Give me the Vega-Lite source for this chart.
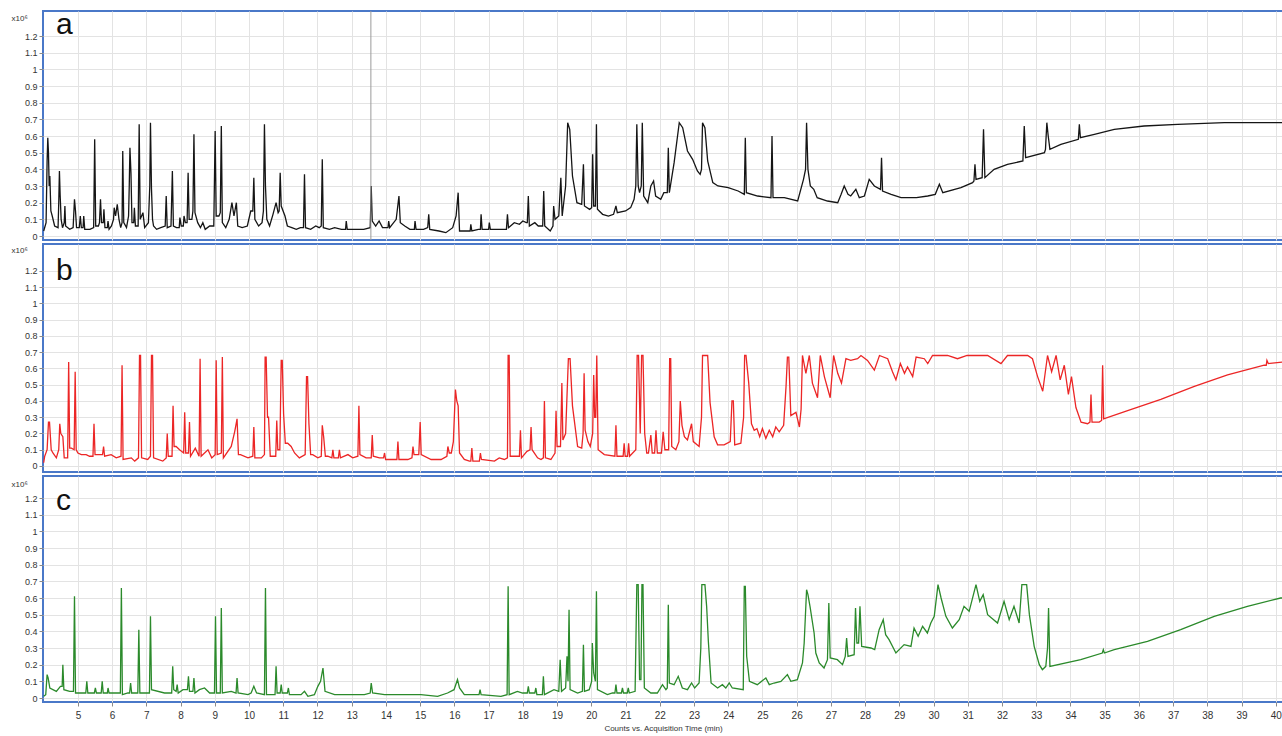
{
"$schema": "https://vega.github.io/schema/vega-lite/v6.json",
"padding": {"left": 10, "top": 9, "right": 0, "bottom": 0},
"config": {
  "font": "Liberation Sans",
  "view": {"stroke": "#4a78c8", "strokeWidth": 2},
  "axis": {"gridColor": "#e3e3e3", "gridWidth": 1, "labelColor": "#333333", "tickColor": "#8a8a8a", "titleColor": "#333333", "titleFontWeight": "normal", "labelOverlap": false, "labelFlush": false}
},
"bounds": "flush",
"spacing": 4,
"datasets": {
"a": [
{"t":4.00,"v":0.03},{"t":4.07,"v":0.08},{"t":4.10,"v":0.45},{"t":4.12,"v":0.59},{"t":4.14,"v":0.50},{"t":4.16,"v":0.30},{"t":4.18,"v":0.36},{"t":4.21,"v":0.15},{"t":4.25,"v":0.12},{"t":4.32,"v":0.06},{"t":4.42,"v":0.05},{"t":4.44,"v":0.20},{"t":4.46,"v":0.39},{"t":4.48,"v":0.25},{"t":4.51,"v":0.10},{"t":4.55,"v":0.05},{"t":4.60,"v":0.08},{"t":4.62,"v":0.18},{"t":4.64,"v":0.06},{"t":4.76,"v":0.04},{"t":4.86,"v":0.05},{"t":4.90,"v":0.22},{"t":4.93,"v":0.15},{"t":4.96,"v":0.05},{"t":5.04,"v":0.05},{"t":5.07,"v":0.12},{"t":5.10,"v":0.05},{"t":5.15,"v":0.05},{"t":5.17,"v":0.12},{"t":5.20,"v":0.04},{"t":5.35,"v":0.04},{"t":5.46,"v":0.05},{"t":5.49,"v":0.58},{"t":5.52,"v":0.06},{"t":5.60,"v":0.06},{"t":5.63,"v":0.08},{"t":5.66,"v":0.22},{"t":5.69,"v":0.08},{"t":5.74,"v":0.08},{"t":5.76,"v":0.16},{"t":5.79,"v":0.05},{"t":5.86,"v":0.05},{"t":5.88,"v":0.09},{"t":5.91,"v":0.04},{"t":5.98,"v":0.06},{"t":6.04,"v":0.10},{"t":6.06,"v":0.17},{"t":6.10,"v":0.12},{"t":6.15,"v":0.19},{"t":6.20,"v":0.10},{"t":6.25,"v":0.05},{"t":6.29,"v":0.08},{"t":6.31,"v":0.51},{"t":6.34,"v":0.08},{"t":6.42,"v":0.05},{"t":6.48,"v":0.12},{"t":6.50,"v":0.30},{"t":6.52,"v":0.53},{"t":6.55,"v":0.38},{"t":6.58,"v":0.08},{"t":6.63,"v":0.08},{"t":6.65,"v":0.17},{"t":6.68,"v":0.06},{"t":6.76,"v":0.06},{"t":6.79,"v":0.67},{"t":6.82,"v":0.10},{"t":6.90,"v":0.14},{"t":6.95,"v":0.05},{"t":7.06,"v":0.08},{"t":7.10,"v":0.30},{"t":7.12,"v":0.68},{"t":7.15,"v":0.28},{"t":7.18,"v":0.10},{"t":7.21,"v":0.06},{"t":7.30,"v":0.04},{"t":7.42,"v":0.05},{"t":7.55,"v":0.06},{"t":7.58,"v":0.24},{"t":7.61,"v":0.05},{"t":7.72,"v":0.06},{"t":7.76,"v":0.39},{"t":7.79,"v":0.06},{"t":7.88,"v":0.05},{"t":7.96,"v":0.05},{"t":7.98,"v":0.11},{"t":8.02,"v":0.06},{"t":8.08,"v":0.06},{"t":8.10,"v":0.12},{"t":8.14,"v":0.08},{"t":8.19,"v":0.08},{"t":8.22,"v":0.38},{"t":8.25,"v":0.10},{"t":8.33,"v":0.10},{"t":8.36,"v":0.15},{"t":8.39,"v":0.61},{"t":8.42,"v":0.14},{"t":8.50,"v":0.08},{"t":8.58,"v":0.05},{"t":8.65,"v":0.08},{"t":8.72,"v":0.04},{"t":8.85,"v":0.06},{"t":8.97,"v":0.06},{"t":9.01,"v":0.63},{"t":9.04,"v":0.12},{"t":9.12,"v":0.12},{"t":9.16,"v":0.14},{"t":9.19,"v":0.66},{"t":9.22,"v":0.08},{"t":9.32,"v":0.05},{"t":9.42,"v":0.10},{"t":9.50,"v":0.20},{"t":9.56,"v":0.12},{"t":9.63,"v":0.20},{"t":9.67,"v":0.06},{"t":9.80,"v":0.05},{"t":9.95,"v":0.06},{"t":10.05,"v":0.15},{"t":10.11,"v":0.15},{"t":10.14,"v":0.35},{"t":10.17,"v":0.10},{"t":10.28,"v":0.06},{"t":10.38,"v":0.08},{"t":10.42,"v":0.15},{"t":10.45,"v":0.67},{"t":10.48,"v":0.30},{"t":10.52,"v":0.10},{"t":10.60,"v":0.06},{"t":10.70,"v":0.13},{"t":10.79,"v":0.20},{"t":10.85,"v":0.14},{"t":10.88,"v":0.15},{"t":10.91,"v":0.38},{"t":10.94,"v":0.18},{"t":11.05,"v":0.12},{"t":11.12,"v":0.06},{"t":11.25,"v":0.05},{"t":11.38,"v":0.04},{"t":11.50,"v":0.05},{"t":11.59,"v":0.05},{"t":11.62,"v":0.37},{"t":11.65,"v":0.05},{"t":11.80,"v":0.04},{"t":11.95,"v":0.06},{"t":12.05,"v":0.05},{"t":12.11,"v":0.06},{"t":12.14,"v":0.46},{"t":12.17,"v":0.05},{"t":12.35,"v":0.04},{"t":12.50,"v":0.05},{"t":12.70,"v":0.04},{"t":12.82,"v":0.04},{"t":12.84,"v":0.09},{"t":12.87,"v":0.04},{"t":13.10,"v":0.04},{"t":13.35,"v":0.04},{"t":13.54,"v":0.05},{"t":13.57,"v":0.30},{"t":13.60,"v":0.09},{"t":13.70,"v":0.06},{"t":13.80,"v":0.09},{"t":13.90,"v":0.05},{"t":14.06,"v":0.05},{"t":14.08,"v":0.09},{"t":14.11,"v":0.05},{"t":14.30,"v":0.10},{"t":14.38,"v":0.24},{"t":14.42,"v":0.08},{"t":14.55,"v":0.06},{"t":14.70,"v":0.04},{"t":14.83,"v":0.04},{"t":14.85,"v":0.09},{"t":14.88,"v":0.04},{"t":15.10,"v":0.04},{"t":15.22,"v":0.05},{"t":15.25,"v":0.13},{"t":15.28,"v":0.04},{"t":15.55,"v":0.03},{"t":15.75,"v":0.02},{"t":15.95,"v":0.05},{"t":16.05,"v":0.12},{"t":16.11,"v":0.26},{"t":16.15,"v":0.03},{"t":16.35,"v":0.03},{"t":16.46,"v":0.03},{"t":16.48,"v":0.07},{"t":16.51,"v":0.03},{"t":16.70,"v":0.04},{"t":16.76,"v":0.04},{"t":16.78,"v":0.13},{"t":16.81,"v":0.04},{"t":17.00,"v":0.04},{"t":17.02,"v":0.08},{"t":17.05,"v":0.04},{"t":17.30,"v":0.04},{"t":17.52,"v":0.04},{"t":17.55,"v":0.13},{"t":17.58,"v":0.05},{"t":17.75,"v":0.08},{"t":17.90,"v":0.07},{"t":18.00,"v":0.09},{"t":18.10,"v":0.08},{"t":18.13,"v":0.08},{"t":18.16,"v":0.24},{"t":18.19,"v":0.06},{"t":18.35,"v":0.08},{"t":18.45,"v":0.06},{"t":18.58,"v":0.06},{"t":18.61,"v":0.27},{"t":18.64,"v":0.06},{"t":18.80,"v":0.03},{"t":18.88,"v":0.06},{"t":18.90,"v":0.18},{"t":18.94,"v":0.10},{"t":19.05,"v":0.12},{"t":19.11,"v":0.35},{"t":19.15,"v":0.12},{"t":19.25,"v":0.30},{"t":19.31,"v":0.68},{"t":19.37,"v":0.64},{"t":19.45,"v":0.36},{"t":19.58,"v":0.20},{"t":19.72,"v":0.19},{"t":19.77,"v":0.43},{"t":19.80,"v":0.18},{"t":19.95,"v":0.16},{"t":20.01,"v":0.17},{"t":20.04,"v":0.49},{"t":20.07,"v":0.18},{"t":20.12,"v":0.18},{"t":20.15,"v":0.67},{"t":20.18,"v":0.16},{"t":20.33,"v":0.13},{"t":20.50,"v":0.12},{"t":20.65,"v":0.13},{"t":20.72,"v":0.18},{"t":20.76,"v":0.14},{"t":21.00,"v":0.15},{"t":21.15,"v":0.17},{"t":21.25,"v":0.22},{"t":21.30,"v":0.30},{"t":21.33,"v":0.67},{"t":21.37,"v":0.30},{"t":21.41,"v":0.26},{"t":21.46,"v":0.30},{"t":21.49,"v":0.68},{"t":21.53,"v":0.24},{"t":21.65,"v":0.20},{"t":21.74,"v":0.30},{"t":21.82,"v":0.33},{"t":21.88,"v":0.24},{"t":22.03,"v":0.22},{"t":22.12,"v":0.26},{"t":22.22,"v":0.26},{"t":22.25,"v":0.53},{"t":22.28,"v":0.26},{"t":22.42,"v":0.44},{"t":22.57,"v":0.68},{"t":22.67,"v":0.65},{"t":22.81,"v":0.51},{"t":22.96,"v":0.46},{"t":23.10,"v":0.39},{"t":23.18,"v":0.37},{"t":23.22,"v":0.40},{"t":23.25,"v":0.68},{"t":23.32,"v":0.65},{"t":23.40,"v":0.45},{"t":23.55,"v":0.32},{"t":23.70,"v":0.30},{"t":24.00,"v":0.29},{"t":24.29,"v":0.27},{"t":24.47,"v":0.25},{"t":24.50,"v":0.59},{"t":24.53,"v":0.26},{"t":24.86,"v":0.24},{"t":25.25,"v":0.23},{"t":25.28,"v":0.60},{"t":25.31,"v":0.23},{"t":25.64,"v":0.23},{"t":26.03,"v":0.21},{"t":26.20,"v":0.34},{"t":26.26,"v":0.40},{"t":26.29,"v":0.68},{"t":26.33,"v":0.40},{"t":26.40,"v":0.30},{"t":26.50,"v":0.28},{"t":26.60,"v":0.23},{"t":26.90,"v":0.21},{"t":27.20,"v":0.20},{"t":27.30,"v":0.25},{"t":27.39,"v":0.30},{"t":27.50,"v":0.25},{"t":27.58,"v":0.24},{"t":27.73,"v":0.28},{"t":27.83,"v":0.23},{"t":27.98,"v":0.24},{"t":28.12,"v":0.34},{"t":28.27,"v":0.30},{"t":28.45,"v":0.28},{"t":28.48,"v":0.47},{"t":28.51,"v":0.27},{"t":28.76,"v":0.25},{"t":29.05,"v":0.23},{"t":29.50,"v":0.23},{"t":29.83,"v":0.24},{"t":30.05,"v":0.25},{"t":30.17,"v":0.31},{"t":30.27,"v":0.26},{"t":30.80,"v":0.29},{"t":31.14,"v":0.32},{"t":31.18,"v":0.33},{"t":31.21,"v":0.43},{"t":31.24,"v":0.34},{"t":31.42,"v":0.35},{"t":31.46,"v":0.64},{"t":31.50,"v":0.35},{"t":31.77,"v":0.40},{"t":32.16,"v":0.43},{"t":32.61,"v":0.45},{"t":32.65,"v":0.66},{"t":32.69,"v":0.47},{"t":33.24,"v":0.50},{"t":33.27,"v":0.52},{"t":33.31,"v":0.68},{"t":33.35,"v":0.60},{"t":33.40,"v":0.52},{"t":33.72,"v":0.55},{"t":34.23,"v":0.58},{"t":34.26,"v":0.67},{"t":34.29,"v":0.59},{"t":34.70,"v":0.61},{"t":35.28,"v":0.64},{"t":36.15,"v":0.66},{"t":37.13,"v":0.67},{"t":38.50,"v":0.68},{"t":40.21,"v":0.68}
],
"b": [
{"t":4.00,"v":0.02},{"t":4.03,"v":0.06},{"t":4.10,"v":0.10},{"t":4.14,"v":0.27},{"t":4.17,"v":0.27},{"t":4.22,"v":0.10},{"t":4.27,"v":0.08},{"t":4.37,"v":0.05},{"t":4.44,"v":0.10},{"t":4.47,"v":0.26},{"t":4.50,"v":0.20},{"t":4.56,"v":0.18},{"t":4.60,"v":0.05},{"t":4.70,"v":0.05},{"t":4.73,"v":0.64},{"t":4.76,"v":0.11},{"t":4.81,"v":0.11},{"t":4.89,"v":0.10},{"t":4.92,"v":0.58},{"t":4.95,"v":0.10},{"t":5.00,"v":0.08},{"t":5.10,"v":0.07},{"t":5.24,"v":0.07},{"t":5.34,"v":0.06},{"t":5.44,"v":0.06},{"t":5.47,"v":0.26},{"t":5.50,"v":0.07},{"t":5.63,"v":0.07},{"t":5.72,"v":0.07},{"t":5.75,"v":0.12},{"t":5.78,"v":0.06},{"t":5.97,"v":0.07},{"t":6.12,"v":0.05},{"t":6.26,"v":0.06},{"t":6.29,"v":0.62},{"t":6.32,"v":0.04},{"t":6.56,"v":0.05},{"t":6.66,"v":0.03},{"t":6.77,"v":0.05},{"t":6.80,"v":0.68},{"t":6.83,"v":0.68},{"t":6.86,"v":0.05},{"t":7.04,"v":0.04},{"t":7.12,"v":0.06},{"t":7.15,"v":0.68},{"t":7.18,"v":0.68},{"t":7.21,"v":0.05},{"t":7.48,"v":0.03},{"t":7.58,"v":0.05},{"t":7.61,"v":0.20},{"t":7.64,"v":0.06},{"t":7.75,"v":0.06},{"t":7.78,"v":0.37},{"t":7.81,"v":0.12},{"t":7.87,"v":0.12},{"t":7.97,"v":0.10},{"t":8.09,"v":0.08},{"t":8.12,"v":0.33},{"t":8.15,"v":0.08},{"t":8.23,"v":0.08},{"t":8.26,"v":0.27},{"t":8.29,"v":0.06},{"t":8.43,"v":0.11},{"t":8.54,"v":0.06},{"t":8.57,"v":0.66},{"t":8.60,"v":0.06},{"t":8.80,"v":0.10},{"t":8.91,"v":0.05},{"t":9.01,"v":0.07},{"t":9.04,"v":0.65},{"t":9.07,"v":0.07},{"t":9.19,"v":0.08},{"t":9.22,"v":0.67},{"t":9.25,"v":0.05},{"t":9.48,"v":0.12},{"t":9.58,"v":0.21},{"t":9.65,"v":0.29},{"t":9.69,"v":0.07},{"t":9.75,"v":0.07},{"t":9.97,"v":0.05},{"t":10.11,"v":0.06},{"t":10.14,"v":0.24},{"t":10.17,"v":0.05},{"t":10.36,"v":0.05},{"t":10.45,"v":0.07},{"t":10.47,"v":0.67},{"t":10.50,"v":0.67},{"t":10.54,"v":0.30},{"t":10.57,"v":0.30},{"t":10.62,"v":0.06},{"t":10.78,"v":0.06},{"t":10.81,"v":0.28},{"t":10.84,"v":0.10},{"t":10.90,"v":0.10},{"t":10.94,"v":0.65},{"t":10.97,"v":0.65},{"t":11.01,"v":0.32},{"t":11.06,"v":0.14},{"t":11.13,"v":0.14},{"t":11.23,"v":0.12},{"t":11.33,"v":0.08},{"t":11.47,"v":0.05},{"t":11.64,"v":0.07},{"t":11.68,"v":0.55},{"t":11.71,"v":0.55},{"t":11.75,"v":0.26},{"t":11.80,"v":0.07},{"t":11.86,"v":0.07},{"t":12.01,"v":0.05},{"t":12.11,"v":0.06},{"t":12.14,"v":0.25},{"t":12.18,"v":0.18},{"t":12.23,"v":0.06},{"t":12.30,"v":0.06},{"t":12.42,"v":0.05},{"t":12.45,"v":0.10},{"t":12.48,"v":0.05},{"t":12.61,"v":0.05},{"t":12.64,"v":0.10},{"t":12.67,"v":0.05},{"t":12.89,"v":0.07},{"t":13.03,"v":0.05},{"t":13.18,"v":0.06},{"t":13.21,"v":0.37},{"t":13.24,"v":0.07},{"t":13.42,"v":0.05},{"t":13.57,"v":0.05},{"t":13.60,"v":0.19},{"t":13.63,"v":0.06},{"t":13.81,"v":0.05},{"t":13.93,"v":0.05},{"t":13.96,"v":0.08},{"t":13.99,"v":0.04},{"t":14.25,"v":0.04},{"t":14.32,"v":0.04},{"t":14.35,"v":0.15},{"t":14.38,"v":0.04},{"t":14.64,"v":0.04},{"t":14.76,"v":0.05},{"t":14.79,"v":0.12},{"t":14.82,"v":0.07},{"t":14.96,"v":0.07},{"t":15.00,"v":0.27},{"t":15.03,"v":0.07},{"t":15.32,"v":0.04},{"t":15.61,"v":0.04},{"t":15.78,"v":0.06},{"t":15.81,"v":0.12},{"t":15.85,"v":0.08},{"t":15.91,"v":0.08},{"t":15.97,"v":0.15},{"t":16.03,"v":0.47},{"t":16.07,"v":0.40},{"t":16.11,"v":0.37},{"t":16.15,"v":0.08},{"t":16.29,"v":0.04},{"t":16.44,"v":0.03},{"t":16.48,"v":0.03},{"t":16.51,"v":0.11},{"t":16.54,"v":0.03},{"t":16.73,"v":0.03},{"t":16.76,"v":0.08},{"t":16.79,"v":0.04},{"t":17.17,"v":0.03},{"t":17.31,"v":0.05},{"t":17.46,"v":0.04},{"t":17.55,"v":0.05},{"t":17.57,"v":0.68},{"t":17.60,"v":0.68},{"t":17.63,"v":0.06},{"t":17.80,"v":0.06},{"t":17.90,"v":0.06},{"t":17.93,"v":0.22},{"t":17.96,"v":0.05},{"t":18.12,"v":0.09},{"t":18.21,"v":0.10},{"t":18.24,"v":0.24},{"t":18.27,"v":0.10},{"t":18.43,"v":0.05},{"t":18.53,"v":0.04},{"t":18.60,"v":0.05},{"t":18.63,"v":0.40},{"t":18.66,"v":0.05},{"t":18.82,"v":0.04},{"t":18.94,"v":0.08},{"t":18.97,"v":0.34},{"t":19.00,"v":0.12},{"t":19.10,"v":0.12},{"t":19.14,"v":0.51},{"t":19.17,"v":0.16},{"t":19.25,"v":0.20},{"t":19.33,"v":0.66},{"t":19.38,"v":0.66},{"t":19.45,"v":0.37},{"t":19.60,"v":0.12},{"t":19.72,"v":0.11},{"t":19.76,"v":0.20},{"t":19.79,"v":0.57},{"t":19.82,"v":0.22},{"t":19.90,"v":0.15},{"t":19.97,"v":0.12},{"t":20.04,"v":0.20},{"t":20.07,"v":0.56},{"t":20.10,"v":0.30},{"t":20.13,"v":0.30},{"t":20.16,"v":0.68},{"t":20.20,"v":0.10},{"t":20.38,"v":0.07},{"t":20.69,"v":0.06},{"t":20.72,"v":0.25},{"t":20.75,"v":0.06},{"t":20.93,"v":0.06},{"t":20.96,"v":0.14},{"t":20.99,"v":0.06},{"t":21.06,"v":0.06},{"t":21.09,"v":0.14},{"t":21.12,"v":0.06},{"t":21.30,"v":0.10},{"t":21.34,"v":0.68},{"t":21.38,"v":0.68},{"t":21.43,"v":0.20},{"t":21.47,"v":0.68},{"t":21.51,"v":0.68},{"t":21.56,"v":0.20},{"t":21.62,"v":0.08},{"t":21.67,"v":0.08},{"t":21.74,"v":0.19},{"t":21.78,"v":0.08},{"t":21.85,"v":0.08},{"t":21.89,"v":0.22},{"t":21.93,"v":0.08},{"t":22.05,"v":0.08},{"t":22.10,"v":0.21},{"t":22.15,"v":0.10},{"t":22.26,"v":0.10},{"t":22.29,"v":0.66},{"t":22.32,"v":0.66},{"t":22.35,"v":0.12},{"t":22.47,"v":0.10},{"t":22.56,"v":0.15},{"t":22.60,"v":0.40},{"t":22.65,"v":0.25},{"t":22.72,"v":0.18},{"t":22.81,"v":0.16},{"t":22.93,"v":0.26},{"t":22.98,"v":0.15},{"t":23.15,"v":0.12},{"t":23.22,"v":0.30},{"t":23.25,"v":0.68},{"t":23.40,"v":0.68},{"t":23.47,"v":0.39},{"t":23.59,"v":0.18},{"t":23.69,"v":0.13},{"t":23.88,"v":0.13},{"t":24.06,"v":0.15},{"t":24.11,"v":0.40},{"t":24.15,"v":0.40},{"t":24.19,"v":0.13},{"t":24.37,"v":0.14},{"t":24.45,"v":0.30},{"t":24.48,"v":0.68},{"t":24.52,"v":0.68},{"t":24.60,"v":0.51},{"t":24.68,"v":0.26},{"t":24.76,"v":0.22},{"t":24.84,"v":0.23},{"t":24.92,"v":0.18},{"t":25.00,"v":0.23},{"t":25.10,"v":0.17},{"t":25.20,"v":0.22},{"t":25.30,"v":0.18},{"t":25.39,"v":0.24},{"t":25.49,"v":0.21},{"t":25.62,"v":0.25},{"t":25.69,"v":0.49},{"t":25.73,"v":0.67},{"t":25.77,"v":0.67},{"t":25.83,"v":0.31},{"t":25.98,"v":0.33},{"t":26.08,"v":0.24},{"t":26.13,"v":0.35},{"t":26.17,"v":0.68},{"t":26.27,"v":0.57},{"t":26.37,"v":0.68},{"t":26.46,"v":0.51},{"t":26.61,"v":0.42},{"t":26.69,"v":0.68},{"t":26.81,"v":0.55},{"t":26.98,"v":0.42},{"t":27.08,"v":0.68},{"t":27.20,"v":0.57},{"t":27.31,"v":0.51},{"t":27.44,"v":0.66},{"t":27.58,"v":0.65},{"t":27.78,"v":0.66},{"t":27.88,"v":0.68},{"t":28.07,"v":0.65},{"t":28.27,"v":0.59},{"t":28.42,"v":0.68},{"t":28.66,"v":0.66},{"t":28.80,"v":0.58},{"t":28.90,"v":0.53},{"t":29.03,"v":0.63},{"t":29.15,"v":0.57},{"t":29.24,"v":0.61},{"t":29.39,"v":0.55},{"t":29.49,"v":0.67},{"t":29.73,"v":0.66},{"t":29.83,"v":0.63},{"t":29.97,"v":0.68},{"t":30.41,"v":0.68},{"t":30.70,"v":0.66},{"t":30.98,"v":0.68},{"t":31.58,"v":0.68},{"t":31.97,"v":0.63},{"t":32.16,"v":0.68},{"t":32.75,"v":0.68},{"t":32.89,"v":0.66},{"t":33.04,"v":0.55},{"t":33.19,"v":0.46},{"t":33.33,"v":0.68},{"t":33.45,"v":0.58},{"t":33.58,"v":0.68},{"t":33.70,"v":0.53},{"t":33.82,"v":0.62},{"t":33.94,"v":0.44},{"t":34.03,"v":0.55},{"t":34.16,"v":0.36},{"t":34.31,"v":0.27},{"t":34.50,"v":0.26},{"t":34.57,"v":0.27},{"t":34.60,"v":0.44},{"t":34.63,"v":0.27},{"t":34.84,"v":0.27},{"t":34.91,"v":0.28},{"t":34.94,"v":0.62},{"t":34.97,"v":0.29},{"t":35.67,"v":0.34},{"t":36.64,"v":0.41},{"t":37.62,"v":0.49},{"t":38.59,"v":0.56},{"t":39.66,"v":0.62},{"t":39.72,"v":0.62},{"t":39.74,"v":0.65},{"t":39.78,"v":0.63},{"t":40.21,"v":0.64}
],
"c": [
{"t":4.00,"v":0.01},{"t":4.06,"v":0.02},{"t":4.10,"v":0.14},{"t":4.13,"v":0.12},{"t":4.18,"v":0.06},{"t":4.37,"v":0.04},{"t":4.49,"v":0.07},{"t":4.54,"v":0.07},{"t":4.56,"v":0.20},{"t":4.59,"v":0.05},{"t":4.76,"v":0.04},{"t":4.87,"v":0.04},{"t":4.90,"v":0.61},{"t":4.93,"v":0.03},{"t":5.15,"v":0.03},{"t":5.23,"v":0.03},{"t":5.26,"v":0.10},{"t":5.29,"v":0.03},{"t":5.48,"v":0.03},{"t":5.51,"v":0.06},{"t":5.54,"v":0.03},{"t":5.68,"v":0.03},{"t":5.71,"v":0.10},{"t":5.74,"v":0.03},{"t":5.86,"v":0.03},{"t":5.88,"v":0.06},{"t":5.91,"v":0.03},{"t":6.24,"v":0.03},{"t":6.27,"v":0.66},{"t":6.30,"v":0.02},{"t":6.46,"v":0.03},{"t":6.51,"v":0.03},{"t":6.54,"v":0.09},{"t":6.57,"v":0.03},{"t":6.75,"v":0.03},{"t":6.78,"v":0.41},{"t":6.81,"v":0.03},{"t":7.09,"v":0.03},{"t":7.12,"v":0.49},{"t":7.15,"v":0.05},{"t":7.53,"v":0.03},{"t":7.74,"v":0.03},{"t":7.77,"v":0.19},{"t":7.80,"v":0.05},{"t":7.87,"v":0.04},{"t":7.90,"v":0.08},{"t":7.93,"v":0.03},{"t":8.07,"v":0.05},{"t":8.20,"v":0.05},{"t":8.23,"v":0.13},{"t":8.26,"v":0.04},{"t":8.36,"v":0.04},{"t":8.39,"v":0.12},{"t":8.42,"v":0.03},{"t":8.55,"v":0.05},{"t":8.70,"v":0.06},{"t":8.85,"v":0.03},{"t":8.99,"v":0.03},{"t":9.02,"v":0.49},{"t":9.05,"v":0.03},{"t":9.16,"v":0.03},{"t":9.19,"v":0.54},{"t":9.22,"v":0.03},{"t":9.48,"v":0.04},{"t":9.62,"v":0.03},{"t":9.65,"v":0.12},{"t":9.68,"v":0.03},{"t":9.97,"v":0.02},{"t":10.06,"v":0.03},{"t":10.14,"v":0.07},{"t":10.22,"v":0.03},{"t":10.45,"v":0.02},{"t":10.48,"v":0.66},{"t":10.51,"v":0.02},{"t":10.76,"v":0.02},{"t":10.79,"v":0.19},{"t":10.82,"v":0.03},{"t":10.91,"v":0.03},{"t":10.94,"v":0.08},{"t":10.97,"v":0.03},{"t":11.12,"v":0.03},{"t":11.15,"v":0.06},{"t":11.18,"v":0.02},{"t":11.52,"v":0.02},{"t":11.62,"v":0.04},{"t":11.72,"v":0.01},{"t":11.91,"v":0.02},{"t":12.01,"v":0.07},{"t":12.09,"v":0.10},{"t":12.16,"v":0.18},{"t":12.22,"v":0.04},{"t":12.50,"v":0.02},{"t":12.98,"v":0.02},{"t":13.37,"v":0.02},{"t":13.54,"v":0.03},{"t":13.57,"v":0.09},{"t":13.61,"v":0.03},{"t":13.96,"v":0.02},{"t":14.45,"v":0.02},{"t":14.75,"v":0.02},{"t":15.02,"v":0.02},{"t":15.51,"v":0.01},{"t":15.80,"v":0.03},{"t":15.99,"v":0.05},{"t":16.09,"v":0.11},{"t":16.15,"v":0.06},{"t":16.29,"v":0.02},{"t":16.53,"v":0.02},{"t":16.72,"v":0.02},{"t":16.75,"v":0.05},{"t":16.78,"v":0.02},{"t":17.36,"v":0.01},{"t":17.54,"v":0.02},{"t":17.57,"v":0.67},{"t":17.60,"v":0.02},{"t":17.84,"v":0.04},{"t":17.99,"v":0.03},{"t":18.13,"v":0.03},{"t":18.16,"v":0.07},{"t":18.19,"v":0.03},{"t":18.35,"v":0.03},{"t":18.38,"v":0.06},{"t":18.41,"v":0.02},{"t":18.57,"v":0.02},{"t":18.60,"v":0.13},{"t":18.63,"v":0.02},{"t":18.91,"v":0.05},{"t":19.05,"v":0.04},{"t":19.09,"v":0.23},{"t":19.13,"v":0.04},{"t":19.25,"v":0.06},{"t":19.29,"v":0.25},{"t":19.32,"v":0.10},{"t":19.35,"v":0.53},{"t":19.38,"v":0.05},{"t":19.60,"v":0.03},{"t":19.74,"v":0.04},{"t":19.77,"v":0.32},{"t":19.80,"v":0.04},{"t":19.94,"v":0.05},{"t":20.01,"v":0.10},{"t":20.03,"v":0.33},{"t":20.07,"v":0.15},{"t":20.12,"v":0.10},{"t":20.15,"v":0.64},{"t":20.18,"v":0.05},{"t":20.47,"v":0.02},{"t":20.62,"v":0.03},{"t":20.69,"v":0.03},{"t":20.72,"v":0.08},{"t":20.75,"v":0.03},{"t":20.88,"v":0.03},{"t":20.91,"v":0.06},{"t":20.94,"v":0.03},{"t":21.05,"v":0.03},{"t":21.08,"v":0.06},{"t":21.11,"v":0.03},{"t":21.28,"v":0.04},{"t":21.33,"v":0.68},{"t":21.37,"v":0.68},{"t":21.41,"v":0.11},{"t":21.45,"v":0.11},{"t":21.48,"v":0.68},{"t":21.51,"v":0.68},{"t":21.55,"v":0.06},{"t":21.74,"v":0.03},{"t":21.93,"v":0.03},{"t":22.08,"v":0.08},{"t":22.18,"v":0.05},{"t":22.22,"v":0.06},{"t":22.25,"v":0.56},{"t":22.28,"v":0.09},{"t":22.42,"v":0.08},{"t":22.54,"v":0.13},{"t":22.66,"v":0.06},{"t":22.81,"v":0.05},{"t":22.93,"v":0.09},{"t":23.02,"v":0.06},{"t":23.15,"v":0.09},{"t":23.20,"v":0.30},{"t":23.23,"v":0.68},{"t":23.32,"v":0.68},{"t":23.37,"v":0.55},{"t":23.42,"v":0.34},{"t":23.50,"v":0.09},{"t":23.69,"v":0.06},{"t":23.83,"v":0.08},{"t":23.93,"v":0.06},{"t":24.03,"v":0.09},{"t":24.12,"v":0.06},{"t":24.44,"v":0.05},{"t":24.47,"v":0.67},{"t":24.50,"v":0.67},{"t":24.54,"v":0.25},{"t":24.62,"v":0.10},{"t":24.85,"v":0.08},{"t":25.10,"v":0.12},{"t":25.20,"v":0.08},{"t":25.34,"v":0.09},{"t":25.54,"v":0.10},{"t":25.73,"v":0.14},{"t":25.83,"v":0.10},{"t":26.02,"v":0.11},{"t":26.17,"v":0.21},{"t":26.22,"v":0.33},{"t":26.29,"v":0.65},{"t":26.33,"v":0.62},{"t":26.39,"v":0.55},{"t":26.51,"v":0.39},{"t":26.56,"v":0.27},{"t":26.66,"v":0.21},{"t":26.80,"v":0.18},{"t":26.90,"v":0.23},{"t":26.94,"v":0.57},{"t":26.98,"v":0.24},{"t":27.19,"v":0.23},{"t":27.34,"v":0.20},{"t":27.42,"v":0.25},{"t":27.46,"v":0.36},{"t":27.50,"v":0.25},{"t":27.68,"v":0.26},{"t":27.72,"v":0.54},{"t":27.76,"v":0.33},{"t":27.81,"v":0.33},{"t":27.85,"v":0.55},{"t":27.90,"v":0.31},{"t":28.17,"v":0.30},{"t":28.28,"v":0.29},{"t":28.41,"v":0.41},{"t":28.53,"v":0.47},{"t":28.60,"v":0.38},{"t":28.70,"v":0.35},{"t":28.90,"v":0.27},{"t":29.14,"v":0.32},{"t":29.34,"v":0.31},{"t":29.43,"v":0.42},{"t":29.55,"v":0.37},{"t":29.68,"v":0.43},{"t":29.82,"v":0.39},{"t":29.92,"v":0.45},{"t":30.02,"v":0.49},{"t":30.13,"v":0.68},{"t":30.22,"v":0.60},{"t":30.36,"v":0.49},{"t":30.55,"v":0.42},{"t":30.75,"v":0.47},{"t":30.89,"v":0.55},{"t":31.04,"v":0.52},{"t":31.24,"v":0.68},{"t":31.35,"v":0.58},{"t":31.45,"v":0.62},{"t":31.58,"v":0.50},{"t":31.87,"v":0.45},{"t":32.06,"v":0.58},{"t":32.21,"v":0.47},{"t":32.35,"v":0.55},{"t":32.50,"v":0.45},{"t":32.58,"v":0.68},{"t":32.72,"v":0.68},{"t":32.80,"v":0.50},{"t":32.94,"v":0.31},{"t":33.09,"v":0.20},{"t":33.18,"v":0.17},{"t":33.28,"v":0.19},{"t":33.33,"v":0.30},{"t":33.36,"v":0.54},{"t":33.40,"v":0.19},{"t":34.30,"v":0.23},{"t":34.93,"v":0.27},{"t":34.96,"v":0.29},{"t":34.99,"v":0.27},{"t":35.28,"v":0.29},{"t":36.25,"v":0.34},{"t":37.22,"v":0.41},{"t":38.20,"v":0.49},{"t":39.17,"v":0.55},{"t":40.14,"v":0.60},{"t":40.21,"v":0.60}
]
},
"vconcat": [
{
  "width": 1240, "height": 229,
  "layer": [
    {
      "data": {"name": "a"},
      "mark": {"type": "line", "color": "#151515", "strokeWidth": 1.3, "clip": true},
      "encoding": {
        "x": {"field": "t", "type": "quantitative", "scale": {"domain": [3.98, 40.21], "nice": false, "zero": false},
              "axis": {"values": [5,6,7,8,9,10,11,12,13,14,15,16,17,18,19,20,21,22,23,24,25,26,27,28,29,30,31,32,33,34,35,36,37,38,39,40], "labels": false, "ticks": false, "domain": false, "title": null, "grid": true, "labelOverlap": false}},
        "y": {"field": "v", "type": "quantitative", "scale": {"domain": [-0.024, 1.35], "nice": false, "zero": false},
              "axis": {"values": [0,0.1,0.2,0.3,0.4,0.5,0.6,0.7,0.8,0.9,1,1.1,1.2], "format": "~g", "domain": false, "tickSize": 4, "labelFontSize": 9, "labelPadding": 2, "labelOverlap": false,
                       "title": "x10⁶", "titleAngle": 0, "titleAlign": "left", "titleBaseline": "middle", "titleX": -32, "titleY": 7, "titleFontSize": 8}}
      }
    },
    {
      "data": {"values": [{}]},
      "mark": {"type": "rule", "color": "#9a9a9a", "strokeWidth": 1},
      "encoding": {"x": {"datum": 13.56, "type": "quantitative",
              "axis": {"values": [5,6,7,8,9,10,11,12,13,14,15,16,17,18,19,20,21,22,23,24,25,26,27,28,29,30,31,32,33,34,35,36,37,38,39,40], "labels": false, "ticks": false, "domain": false, "title": null, "grid": true, "labelOverlap": false}}}
    },
    {
      "data": {"values": [{}]},
      "mark": {"type": "text", "text": "a", "fontSize": 30, "align": "left", "baseline": "alphabetic", "color": "#111111"},
      "encoding": {
        "x": {"datum": 4.36, "type": "quantitative",
              "axis": {"values": [5,6,7,8,9,10,11,12,13,14,15,16,17,18,19,20,21,22,23,24,25,26,27,28,29,30,31,32,33,34,35,36,37,38,39,40], "labels": false, "ticks": false, "domain": false, "title": null, "grid": true, "labelOverlap": false}},
        "y": {"datum": 1.21, "type": "quantitative",
              "axis": {"values": [0,0.1,0.2,0.3,0.4,0.5,0.6,0.7,0.8,0.9,1,1.1,1.2], "format": "~g", "domain": false, "tickSize": 4, "labelFontSize": 9, "labelPadding": 2, "labelOverlap": false,
                       "title": "x10⁶", "titleAngle": 0, "titleAlign": "left", "titleBaseline": "middle", "titleX": -32, "titleY": 7, "titleFontSize": 8}}
      }
    }
  ]
},
{
  "width": 1240, "height": 228,
  "layer": [
    {
      "data": {"name": "b"},
      "mark": {"type": "line", "color": "#ec2626", "strokeWidth": 1.3, "clip": true},
      "encoding": {
        "x": {"field": "t", "type": "quantitative", "scale": {"domain": [3.98, 40.21], "nice": false, "zero": false},
              "axis": {"values": [5,6,7,8,9,10,11,12,13,14,15,16,17,18,19,20,21,22,23,24,25,26,27,28,29,30,31,32,33,34,35,36,37,38,39,40], "labels": false, "ticks": false, "domain": false, "title": null, "grid": true, "labelOverlap": false}},
        "y": {"field": "v", "type": "quantitative", "scale": {"domain": [-0.037, 1.366], "nice": false, "zero": false},
              "axis": {"values": [0,0.1,0.2,0.3,0.4,0.5,0.6,0.7,0.8,0.9,1,1.1,1.2], "format": "~g", "domain": false, "tickSize": 4, "labelFontSize": 9, "labelPadding": 2, "labelOverlap": false,
                       "title": "x10⁶", "titleAngle": 0, "titleAlign": "left", "titleBaseline": "middle", "titleX": -32, "titleY": 6, "titleFontSize": 8}}
      }
    },
    {
      "data": {"values": [{}]},
      "mark": {"type": "text", "text": "b", "fontSize": 30, "align": "left", "baseline": "alphabetic", "color": "#111111"},
      "encoding": {
        "x": {"datum": 4.36, "type": "quantitative",
              "axis": {"values": [5,6,7,8,9,10,11,12,13,14,15,16,17,18,19,20,21,22,23,24,25,26,27,28,29,30,31,32,33,34,35,36,37,38,39,40], "labels": false, "ticks": false, "domain": false, "title": null, "grid": true, "labelOverlap": false}},
        "y": {"datum": 1.145, "type": "quantitative",
              "axis": {"values": [0,0.1,0.2,0.3,0.4,0.5,0.6,0.7,0.8,0.9,1,1.1,1.2], "format": "~g", "domain": false, "tickSize": 4, "labelFontSize": 9, "labelPadding": 2, "labelOverlap": false,
                       "title": "x10⁶", "titleAngle": 0, "titleAlign": "left", "titleBaseline": "middle", "titleX": -32, "titleY": 6, "titleFontSize": 8}}
      }
    }
  ]
},
{
  "width": 1240, "height": 226,
  "layer": [
    {
      "data": {"name": "c"},
      "mark": {"type": "line", "color": "#2b8a2b", "strokeWidth": 1.3, "clip": true},
      "encoding": {
        "x": {"field": "t", "type": "quantitative", "scale": {"domain": [3.98, 40.21], "nice": false, "zero": false},
              "axis": {"values": [5,6,7,8,9,10,11,12,13,14,15,16,17,18,19,20,21,22,23,24,25,26,27,28,29,30,31,32,33,34,35,36,37,38,39,40], "format": "d", "domain": false, "grid": true, "tickSize": 4, "labelFontSize": 10, "labelPadding": 4, "labelOverlap": false,
                       "title": "Counts vs. Acquisition Time (min)", "titleFontSize": 8, "titlePadding": 4}},
        "y": {"field": "v", "type": "quantitative", "scale": {"domain": [-0.024, 1.332], "nice": false, "zero": false},
              "axis": {"values": [0,0.1,0.2,0.3,0.4,0.5,0.6,0.7,0.8,0.9,1,1.1,1.2], "format": "~g", "domain": false, "tickSize": 4, "labelFontSize": 9, "labelPadding": 2, "labelOverlap": false,
                       "title": "x10⁶", "titleAngle": 0, "titleAlign": "left", "titleBaseline": "middle", "titleX": -32, "titleY": 8, "titleFontSize": 8}}
      }
    },
    {
      "data": {"values": [{}]},
      "mark": {"type": "text", "text": "c", "fontSize": 30, "align": "left", "baseline": "alphabetic", "color": "#111111"},
      "encoding": {
        "x": {"datum": 4.36, "type": "quantitative",
              "axis": {"values": [5,6,7,8,9,10,11,12,13,14,15,16,17,18,19,20,21,22,23,24,25,26,27,28,29,30,31,32,33,34,35,36,37,38,39,40], "format": "d", "domain": false, "grid": true, "tickSize": 4, "labelFontSize": 10, "labelPadding": 4, "labelOverlap": false,
                       "title": "Counts vs. Acquisition Time (min)", "titleFontSize": 8, "titlePadding": 4}},
        "y": {"datum": 1.13, "type": "quantitative",
              "axis": {"values": [0,0.1,0.2,0.3,0.4,0.5,0.6,0.7,0.8,0.9,1,1.1,1.2], "format": "~g", "domain": false, "tickSize": 4, "labelFontSize": 9, "labelPadding": 2, "labelOverlap": false,
                       "title": "x10⁶", "titleAngle": 0, "titleAlign": "left", "titleBaseline": "middle", "titleX": -32, "titleY": 8, "titleFontSize": 8}}
      }
    }
  ]
}
]
}
